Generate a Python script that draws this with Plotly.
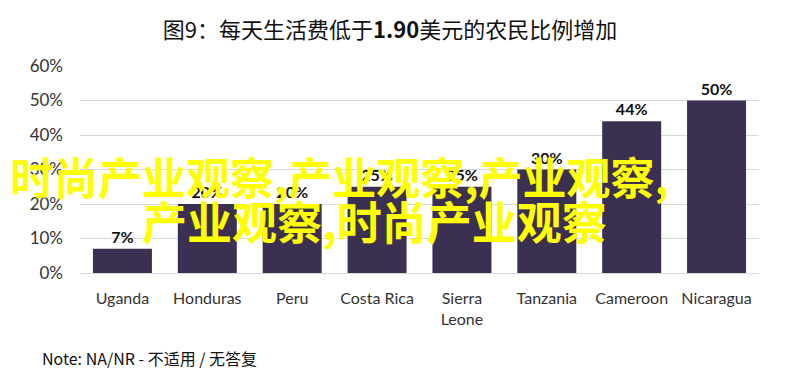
import plotly.graph_objects as go

countries = ["Uganda", "Honduras", "Peru", "Costa Rica", "Sierra<br>Leone",
             "Tanzania", "Cameroon", "Nicaragua"]
shares = [0.07, 0.20, 0.20, 0.25, 0.25, 0.30, 0.44, 0.50]
y_ticks = [0, 0.1, 0.2, 0.3, 0.4, 0.5, 0.6]
y_tick_text = ["0%", "10%", "20%", "30%", "40%", "50%", "60%"]

title_text = "图9：每天生活费低于<b>1.90</b>美元的农民比例增加"
note_text = "Note: NA/NR - 不适用 / 无答复"
watermark1 = "时尚产业观察,产业观察,产业观察,"
watermark2 = "产业观察,时尚产业观察"

OFF = 8  # default page body margin
W, H = 788 - OFF, 381 - OFF
L, T = 80 - OFF, 66 - OFF
R = W - (759 - OFF)
B = H - (273 - OFF)
pw, ph = W - L - R, H - T - B

def px(x):
    return (x - OFF - L) / pw

def py(y):
    return (H - B - (y - OFF)) / ph

fig = go.Figure(go.Bar(
    x=countries, y=shares,
    marker=dict(color="#3c3052", line=dict(width=0)),
    text=[f"{round(v*100)}%" for v in shares],
    textposition="outside",
    textfont=dict(family="Lato, Noto Sans", size=16, color="#111111", weight="bold"),
    cliponaxis=False,
))

fig.update_layout(
    width=W, height=H,
    margin=dict(l=L, r=R, t=T, b=B, autoexpand=False),
    paper_bgcolor="white", plot_bgcolor="white",
    bargap=0.305,
    showlegend=False,
    title=dict(text=title_text, x=(390 - OFF) / W, xanchor="center",
               y=1 - (30 - OFF) / H, yanchor="middle",
               font=dict(family="Noto Sans CJK SC", size=22, color="#111111")),
    xaxis=dict(showgrid=False, showline=False, ticks="", automargin=False,
               ticklabelstandoff=14,
               tickfont=dict(family="Lato, Noto Sans", size=16, color="#333333")),
    yaxis=dict(range=[0, 0.6], tickvals=y_ticks, ticktext=y_tick_text,
               showgrid=True, gridcolor="#d9d9d9", gridwidth=1, automargin=False,
               zeroline=True, zerolinecolor="#d9d9d9", zerolinewidth=1,
               showline=False, ticks="", ticklabelstandoff=16,
               tickfont=dict(family="Lato, Noto Sans", size=17, color="#333333")),
    annotations=[
        dict(text=note_text, xref="paper", yref="paper", x=px(40), y=py(358),
             xanchor="left", yanchor="middle", showarrow=False,
             font=dict(family="Noto Sans CJK SC", size=16, color="#111111")),
        dict(text=watermark1, xref="paper", yref="paper", x=px(8), y=py(176),
             xanchor="left", yanchor="middle", showarrow=False,
             font=dict(family="Noto Sans CJK SC", size=44, color="#ffff00", weight="bold")),
        dict(text=watermark2, xref="paper", yref="paper", x=px(140), y=py(220),
             xanchor="left", yanchor="middle", showarrow=False,
             font=dict(family="Noto Sans CJK SC", size=45, color="#ffff00", weight="bold")),
    ],
)

fig.write_html("out.html")
